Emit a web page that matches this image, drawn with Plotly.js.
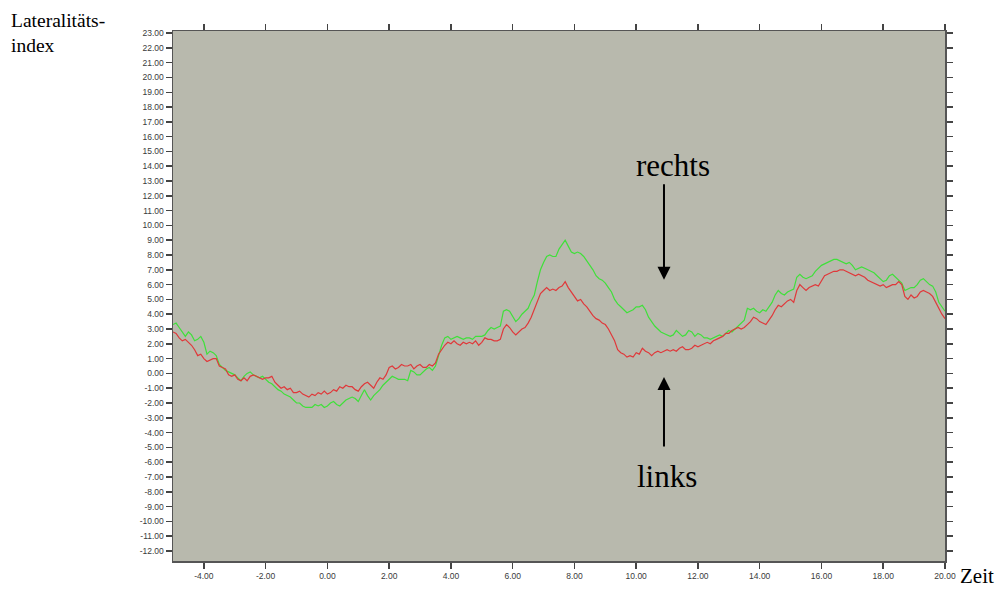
<!DOCTYPE html>
<html>
<head>
<meta charset="utf-8">
<script src="https://cdn.plot.ly/plotly-3.0.1.min.js"></script>
<style>
  html, body { margin: 0; padding: 0; background: #ffffff; }
  #chart { width: 999px; height: 592px; }
</style>
</head>
<body>
<div id="chart"></div>
<script>
// Time axis: samples start at -5.0 s, every 0.1 s, up to 20.0 s
const timeStart = -5.0;
const timeStep = 0.1;

// Laterality index, left side (red), one row per second
const links = [
  2.8, 2.7, 2.4, 2.2, 2.3, 2.1, 1.9, 1.6, 1.2, 1.3,          // -5.0 .. -4.1
  1.0, 0.8, 0.9, 1.0, 1.0, 0.5, 0.4, 0.3, -0.1, -0.2,        // -4.0 .. -3.1
  -0.1, -0.4, -0.5, -0.3, -0.5, -0.2, -0.1, -0.2, -0.3, -0.4, // -3.0 .. -2.1
  -0.3, -0.3, -0.2, -0.6, -0.8, -1.0, -0.9, -1.1, -1.0, -1.3, // -2.0 .. -1.1
  -1.3, -1.2, -1.4, -1.5, -1.6, -1.4, -1.5, -1.3, -1.4, -1.2, // -1.0 .. -0.1
  -1.4, -1.3, -1.1, -1.2, -0.9, -1.0, -0.8, -0.9, -0.9, -1.1, // 0.0 .. 0.9
  -1.2, -0.9, -0.7, -0.6, -0.8, -1.0, -0.6, -0.3, -0.4, -0.1, // 1.0 .. 1.9
  0.4, 0.5, 0.3, 0.4, 0.6, 0.5, 0.5, 0.6, 0.3, 0.5,          // 2.0 .. 2.9
  0.6, 0.4, 0.4, 0.6, 0.5, 0.7, 1.3, 1.6, 1.9, 2.1,          // 3.0 .. 3.9
  2.0, 2.2, 2.0, 1.9, 2.1, 2.0, 2.1, 2.0, 2.2, 1.9,          // 4.0 .. 4.9
  2.1, 2.4, 2.3, 2.3, 2.2, 2.2, 2.3, 3.0, 3.3, 3.1,          // 5.0 .. 5.9
  2.8, 2.6, 2.8, 3.0, 3.1, 3.4, 3.8, 4.3, 4.9, 5.4,          // 6.0 .. 6.9
  5.6, 5.8, 5.6, 5.7, 5.6, 5.8, 5.9, 6.2, 5.8, 5.5,          // 7.0 .. 7.9
  5.2, 4.9, 5.0, 4.7, 4.5, 4.2, 3.9, 3.7, 3.6, 3.4,          // 8.0 .. 8.9
  3.3, 3.0, 2.6, 2.2, 1.6, 1.4, 1.3, 1.1, 1.2, 1.1,          // 9.0 .. 9.9
  1.4, 1.3, 1.7, 1.5, 1.4, 1.2, 1.4, 1.5, 1.4, 1.5,          // 10.0 .. 10.9
  1.6, 1.5, 1.6, 1.5, 1.7, 1.8, 1.6, 1.6, 1.7, 1.9,          // 11.0 .. 11.9
  1.8, 1.9, 2.0, 2.1, 2.0, 2.2, 2.3, 2.4, 2.5, 2.7,          // 12.0 .. 12.9
  2.7, 2.9, 3.0, 3.1, 3.0, 3.1, 3.3, 3.5, 3.8, 3.7,          // 13.0 .. 13.9
  3.5, 3.4, 3.3, 3.6, 3.9, 4.3, 4.6, 4.5, 4.7, 4.9,          // 14.0 .. 14.9
  5.0, 4.8, 5.6, 6.0, 5.8, 5.6, 5.8, 5.9, 6.0, 5.9,          // 15.0 .. 15.9
  6.3, 6.6, 6.7, 6.8, 6.9, 6.9, 7.0, 7.0, 6.9, 6.8,          // 16.0 .. 16.9
  6.7, 6.6, 6.7, 6.6, 6.5, 6.3, 6.2, 6.1, 6.0, 5.9,          // 17.0 .. 17.9
  6.0, 5.8, 5.9, 6.0, 6.0, 6.2, 6.0, 5.2, 5.0, 5.3,          // 18.0 .. 18.9
  5.1, 5.2, 5.5, 5.6, 5.5, 5.4, 5.2, 4.8, 4.3, 4.0,          // 19.0 .. 19.9
  3.7                                                        // 20.0
];

// Laterality index, right side (green)
const rechts = [
  3.3, 3.4, 3.1, 2.8, 2.5, 2.8, 2.6, 2.2, 2.3, 2.5,          // -5.0 .. -4.1
  2.1, 1.3, 1.5, 1.4, 1.2, 0.6, 0.4, 0.2, 0.1, 0.0,          // -4.0 .. -3.1
  -0.1, -0.3, -0.5, -0.2, 0.0, 0.1, -0.1, -0.2, -0.3, -0.2,  // -3.0 .. -2.1
  -0.4, -0.6, -0.7, -0.9, -1.1, -1.2, -1.4, -1.5, -1.6, -1.8, // -2.0 .. -1.1
  -2.0, -2.0, -2.2, -2.3, -2.3, -2.3, -2.1, -2.2, -2.1, -2.3, // -1.0 .. -0.1
  -2.2, -2.0, -1.9, -2.1, -2.2, -2.0, -1.8, -1.7, -1.6, -1.7, // 0.0 .. 0.9
  -1.9, -1.5, -1.1, -1.5, -1.8, -1.5, -1.3, -1.1, -0.8, -0.6, // 1.0 .. 1.9
  -0.4, -0.2, -0.3, -0.4, -0.4, -0.4, -0.5, 0.2, 0.1, -0.1,  // 2.0 .. 2.9
  -0.1, 0.1, 0.3, 0.4, 0.2, 0.5, 1.3, 1.9, 2.4, 2.5,         // 3.0 .. 3.9
  2.3, 2.4, 2.5, 2.4, 2.3, 2.4, 2.4, 2.3, 2.5, 2.5,          // 4.0 .. 4.9
  2.5, 2.6, 2.9, 3.1, 3.0, 3.1, 3.2, 4.2, 4.3, 4.2,          // 5.0 .. 5.9
  3.8, 3.5, 3.7, 4.0, 4.2, 4.4, 4.9, 5.3, 6.2, 7.0,          // 6.0 .. 6.9
  7.5, 7.9, 8.0, 7.9, 7.9, 8.4, 8.7, 9.0, 8.6, 8.2,          // 7.0 .. 7.9
  8.1, 8.2, 8.1, 7.9, 7.6, 7.3, 7.0, 6.6, 6.4, 6.3,          // 8.0 .. 8.9
  6.1, 5.8, 5.5, 5.0, 4.7, 4.5, 4.3, 4.1, 4.2, 4.3,          // 9.0 .. 9.9
  4.5, 4.5, 4.6, 4.3, 3.8, 3.5, 3.2, 3.0, 2.8, 2.7,          // 10.0 .. 10.9
  2.6, 2.5, 2.6, 2.9, 2.7, 2.5, 2.6, 2.9, 2.8, 2.5,          // 11.0 .. 11.9
  2.7, 2.6, 2.4, 2.4, 2.3, 2.4, 2.5, 2.6, 2.5, 2.7,          // 12.0 .. 12.9
  2.9, 2.8, 3.0, 3.2, 3.4, 3.6, 4.4, 4.3, 4.4, 4.2,          // 13.0 .. 13.9
  4.1, 4.3, 4.2, 4.5, 4.8, 5.3, 5.6, 5.4, 5.3, 5.5,          // 14.0 .. 14.9
  5.6, 5.7, 6.5, 6.7, 6.5, 6.4, 6.5, 6.6, 6.9, 7.1,          // 15.0 .. 15.9
  7.3, 7.4, 7.5, 7.6, 7.7, 7.7, 7.6, 7.5, 7.4, 7.5,          // 16.0 .. 16.9
  7.3, 7.0, 7.1, 7.2, 7.1, 7.0, 6.9, 6.8, 6.6, 6.4,          // 17.0 .. 17.9
  6.2, 6.3, 6.6, 6.7, 6.5, 6.3, 6.1, 5.6, 5.7, 5.8,          // 18.0 .. 18.9
  5.8, 6.0, 6.3, 6.4, 6.2, 6.0, 5.9, 5.5, 4.8, 4.5,          // 19.0 .. 19.9
  4.2                                                        // 20.0
];

// Tick positions and their printed labels
const xTickVals = [-4, -2, 0, 2, 4, 6, 8, 10, 12, 14, 16, 18, 20];
const xTickText = ['-4.00', '-2.00', '0.00', '2.00', '4.00', '6.00', '8.00',
                   '10.00', '12.00', '14.00', '16.00', '18.00', '20.00'];
const yTickVals = [23, 22, 21, 20, 19, 18, 17, 16, 15, 14, 13, 12, 11, 10, 9, 8,
                   7, 6, 5, 4, 3, 2, 1, 0, -1, -2, -3, -4, -5, -6, -7, -8, -9,
                   -10, -11, -12];
const yTickText = ['23.00', '22.00', '21.00', '20.00', '19.00', '18.00', '17.00',
                   '16.00', '15.00', '14.00', '13.00', '12.00', '11.00', '10.00',
                   '9.00', '8.00', '7.00', '6.00', '5.00', '4.00', '3.00', '2.00',
                   '1.00', '0.00', '-1.00', '-2.00', '-3.00', '-4.00', '-5.00',
                   '-6.00', '-7.00', '-8.00', '-9.00', '-10.00', '-11.00', '-12.00'];

// Text labels
const yLabel = 'Lateralitäts-<br>index';
const xLabel = 'Zeit';
const labelRight = 'rechts';
const labelLeft = 'links';

const serif = '"Liberation Serif", "Times New Roman", serif';
const sans = '"Liberation Sans", Arial, sans-serif';

const traces = [
  {
    type: 'scatter', mode: 'lines', name: labelRight,
    x0: timeStart, dx: timeStep, y: rechts,
    line: { color: '#3fe03a', width: 1.2 }
  },
  {
    type: 'scatter', mode: 'lines', name: labelLeft,
    x0: timeStart, dx: timeStep, y: links,
    line: { color: '#e0383a', width: 1.2 }
  }
];

const axisCommon = {
  showgrid: false, zeroline: false,
  showline: true, linecolor: '#555555', linewidth: 1.5,
  mirror: 'ticks',
  ticks: 'outside', ticklen: 6, tickwidth: 1.5, tickcolor: '#444444',
  tickfont: { family: sans, size: 8.5, color: '#3a3a3a' },
  tickmode: 'array'
};

const layout = {
  width: 999, height: 592,
  margin: { l: 173, r: 54, t: 31, b: 31, pad: 0 },
  paper_bgcolor: '#ffffff',
  plot_bgcolor: '#b8b9ad',
  showlegend: false,
  xaxis: Object.assign({}, axisCommon, {
    range: [-5, 20],
    tickvals: xTickVals, ticktext: xTickText
  }),
  yaxis: Object.assign({}, axisCommon, {
    range: [-12.68, 23.14],
    tickvals: yTickVals, ticktext: yTickText
  }),
  annotations: [
    {
      text: yLabel, xref: 'paper', yref: 'paper',
      x: -0.212, y: 1.043, xanchor: 'left', yanchor: 'top', align: 'left',
      showarrow: false,
      font: { family: serif, size: 19.5, color: '#000000' }
    },
    {
      text: xLabel, xref: 'paper', yref: 'paper',
      x: 1.017, y: -0.028, xanchor: 'left', yanchor: 'middle',
      showarrow: false,
      font: { family: serif, size: 21, color: '#000000' }
    },
    {
      text: labelRight, xref: 'x', yref: 'y',
      x: 11.19, y: 14.02, xanchor: 'center', yanchor: 'middle',
      showarrow: false,
      font: { family: serif, size: 31, color: '#000000' }
    },
    {
      text: labelLeft, xref: 'x', yref: 'y',
      x: 11.0, y: -7.0, xanchor: 'center', yanchor: 'middle',
      showarrow: false,
      font: { family: serif, size: 31, color: '#000000' }
    },
    {
      // downward arrow under "rechts"
      text: '', xref: 'x', yref: 'y',
      x: 10.9, y: 6.32, ax: 0, ay: -97,
      showarrow: true, arrowhead: 2, arrowsize: 1.3, arrowwidth: 2,
      arrowcolor: '#000000'
    },
    {
      // upward arrow above "links"
      text: '', xref: 'x', yref: 'y',
      x: 10.9, y: -0.24, ax: 0, ay: 71,
      showarrow: true, arrowhead: 2, arrowsize: 1.3, arrowwidth: 2,
      arrowcolor: '#000000'
    }
  ]
};

Plotly.newPlot('chart', traces, layout, { staticPlot: true, displayModeBar: false });
</script>
</body>
</html>
